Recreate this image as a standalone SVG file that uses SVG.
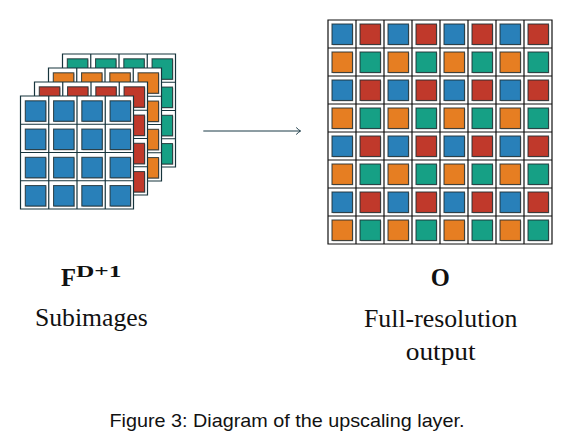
<svg xmlns="http://www.w3.org/2000/svg" width="575" height="444" viewBox="0 0 575 444">
<style>
  .bg{fill:#ffffff}
  .b{fill:#2980b9}
  .r{fill:#c0392b}
  .o{fill:#e67e22}
  .t{fill:#16a085}
  .sq{stroke:#1c2a2e;stroke-opacity:0.8;stroke-width:1.1}
  .sh{fill:#000;fill-opacity:0.28}
  .lgrid{fill:none;stroke:#17343c;stroke-width:1.2}
  .ogrid{fill:none;stroke:#111;stroke-width:1.2}
  .conn{fill:none;stroke:#1b3a47;stroke-width:1}
  .serif{font-family:"Liberation Serif","Times New Roman",serif;fill:#111}
  .sans{font-family:"Liberation Sans",Arial,sans-serif;fill:#111}
</style>
<defs>
  <g id="sh16">
    <rect x="5.6" y="5.6" width="20.5" height="20.5"/><rect x="33.85" y="5.6" width="20.5" height="20.5"/><rect x="62.1" y="5.6" width="20.5" height="20.5"/><rect x="90.35" y="5.6" width="20.5" height="20.5"/>
    <rect x="5.6" y="33.85" width="20.5" height="20.5"/><rect x="33.85" y="33.85" width="20.5" height="20.5"/><rect x="62.1" y="33.85" width="20.5" height="20.5"/><rect x="90.35" y="33.85" width="20.5" height="20.5"/>
    <rect x="5.6" y="62.1" width="20.5" height="20.5"/><rect x="33.85" y="62.1" width="20.5" height="20.5"/><rect x="62.1" y="62.1" width="20.5" height="20.5"/><rect x="90.35" y="62.1" width="20.5" height="20.5"/>
    <rect x="5.6" y="90.35" width="20.5" height="20.5"/><rect x="33.85" y="90.35" width="20.5" height="20.5"/><rect x="62.1" y="90.35" width="20.5" height="20.5"/><rect x="90.35" y="90.35" width="20.5" height="20.5"/>
  </g>
  <g id="sq16">
    <rect x="4.8" y="4.8" width="20.5" height="20.5"/><rect x="33.05" y="4.8" width="20.5" height="20.5"/><rect x="61.3" y="4.8" width="20.5" height="20.5"/><rect x="89.55" y="4.8" width="20.5" height="20.5"/>
    <rect x="4.8" y="33.05" width="20.5" height="20.5"/><rect x="33.05" y="33.05" width="20.5" height="20.5"/><rect x="61.3" y="33.05" width="20.5" height="20.5"/><rect x="89.55" y="33.05" width="20.5" height="20.5"/>
    <rect x="4.8" y="61.3" width="20.5" height="20.5"/><rect x="33.05" y="61.3" width="20.5" height="20.5"/><rect x="61.3" y="61.3" width="20.5" height="20.5"/><rect x="89.55" y="61.3" width="20.5" height="20.5"/>
    <rect x="4.8" y="89.55" width="20.5" height="20.5"/><rect x="33.05" y="89.55" width="20.5" height="20.5"/><rect x="61.3" y="89.55" width="20.5" height="20.5"/><rect x="89.55" y="89.55" width="20.5" height="20.5"/>
  </g>
  <path id="lg" d="M0,0H113V113H0Z M28.25,0V113 M56.5,0V113 M84.75,0V113 M0,28.25H113 M0,56.5H113 M0,84.75H113"/>
  <g id="rowA">
    <rect class="sh" x="4.8" y="4.8" width="20.5" height="20.5"/><rect class="sh" x="32.8" y="4.8" width="20.5" height="20.5"/><rect class="sh" x="60.8" y="4.8" width="20.5" height="20.5"/><rect class="sh" x="88.8" y="4.8" width="20.5" height="20.5"/><rect class="sh" x="116.8" y="4.8" width="20.5" height="20.5"/><rect class="sh" x="144.8" y="4.8" width="20.5" height="20.5"/><rect class="sh" x="172.8" y="4.8" width="20.5" height="20.5"/><rect class="sh" x="200.8" y="4.8" width="20.5" height="20.5"/>
    <rect class="sq b" x="4" y="4" width="20.5" height="20.5"/><rect class="sq r" x="32" y="4" width="20.5" height="20.5"/><rect class="sq b" x="60" y="4" width="20.5" height="20.5"/><rect class="sq r" x="88" y="4" width="20.5" height="20.5"/><rect class="sq b" x="116" y="4" width="20.5" height="20.5"/><rect class="sq r" x="144" y="4" width="20.5" height="20.5"/><rect class="sq b" x="172" y="4" width="20.5" height="20.5"/><rect class="sq r" x="200" y="4" width="20.5" height="20.5"/>
  </g>
  <g id="rowB">
    <rect class="sh" x="4.8" y="4.8" width="20.5" height="20.5"/><rect class="sh" x="32.8" y="4.8" width="20.5" height="20.5"/><rect class="sh" x="60.8" y="4.8" width="20.5" height="20.5"/><rect class="sh" x="88.8" y="4.8" width="20.5" height="20.5"/><rect class="sh" x="116.8" y="4.8" width="20.5" height="20.5"/><rect class="sh" x="144.8" y="4.8" width="20.5" height="20.5"/><rect class="sh" x="172.8" y="4.8" width="20.5" height="20.5"/><rect class="sh" x="200.8" y="4.8" width="20.5" height="20.5"/>
    <rect class="sq o" x="4" y="4" width="20.5" height="20.5"/><rect class="sq t" x="32" y="4" width="20.5" height="20.5"/><rect class="sq o" x="60" y="4" width="20.5" height="20.5"/><rect class="sq t" x="88" y="4" width="20.5" height="20.5"/><rect class="sq o" x="116" y="4" width="20.5" height="20.5"/><rect class="sq t" x="144" y="4" width="20.5" height="20.5"/><rect class="sq o" x="172" y="4" width="20.5" height="20.5"/><rect class="sq t" x="200" y="4" width="20.5" height="20.5"/>
  </g>
  <marker id="arr" viewBox="-4 -4 6 8" markerWidth="6" markerHeight="8" refX="1" refY="0" orient="auto" markerUnits="userSpaceOnUse">
    <path d="M-3,-3.2 Q-0.5,-0.8 1,0 Q-0.5,0.8 -3,3.2" fill="none" stroke="#1b3a47" stroke-width="1" stroke-linecap="round"/>
  </marker>
</defs>

<g id="subimages">
  <g id="layer-teal" transform="translate(62.5,54)">
    <rect class="bg" width="113" height="113"/>
    <use href="#sh16" class="sh"/>
    <use href="#sq16" class="sq t"/>
    <use href="#lg" class="lgrid"/>
  </g>
  <g id="layer-orange" transform="translate(48.5,68)">
    <rect class="bg" width="113" height="113"/>
    <use href="#sh16" class="sh"/>
    <use href="#sq16" class="sq o"/>
    <use href="#lg" class="lgrid"/>
  </g>
  <g id="layer-red" transform="translate(34.5,82)">
    <rect class="bg" width="113" height="113"/>
    <use href="#sh16" class="sh"/>
    <use href="#sq16" class="sq r"/>
    <use href="#lg" class="lgrid"/>
  </g>
  <g id="layer-blue" transform="translate(20.5,96)">
    <rect class="bg" width="113" height="113"/>
    <use href="#sh16" class="sh"/>
    <use href="#sq16" class="sq b"/>
    <use href="#lg" class="lgrid"/>
  </g>
</g>

<g id="output">
  <rect class="bg" x="328" y="20" width="224" height="224"/>
  <use href="#rowA" x="328" y="20"/>
  <use href="#rowB" x="328" y="48"/>
  <use href="#rowA" x="328" y="76"/>
  <use href="#rowB" x="328" y="104"/>
  <use href="#rowA" x="328" y="132"/>
  <use href="#rowB" x="328" y="160"/>
  <use href="#rowA" x="328" y="188"/>
  <use href="#rowB" x="328" y="216"/>
  <path class="ogrid" d="M328,20H552V244H328Z M356,20V244 M384,20V244 M412,20V244 M440,20V244 M468,20V244 M496,20V244 M524,20V244 M328,48H552 M328,76H552 M328,104H552 M328,132H552 M328,160H552 M328,188H552 M328,216H552"/>
</g>

<g id="connectors">
  <path class="conn" d="M203.3,131H300.5" marker-end="url(#arr)"/>
</g>

<g id="label-subimages">
  <text class="serif" x="61" y="285.5" font-size="25" font-weight="bold" textLength="15" lengthAdjust="spacingAndGlyphs">F</text>
  <text class="serif" x="76" y="276.7" font-size="16.5" font-weight="bold" textLength="45.5" lengthAdjust="spacingAndGlyphs">D+1</text>
  <text class="serif" x="35" y="326" font-size="24.5" textLength="112.7" lengthAdjust="spacingAndGlyphs">Subimages</text>
</g>

<g id="label-output">
  <text class="serif" x="440.3" y="286.3" font-size="24.5" font-weight="bold" text-anchor="middle">O</text>
  <text class="serif" x="364" y="326.7" font-size="24.5" textLength="153.3" lengthAdjust="spacingAndGlyphs">Full-resolution</text>
  <text class="serif" x="405.7" y="360" font-size="24.5" textLength="70" lengthAdjust="spacingAndGlyphs">output</text>
</g>

<text class="sans" x="109.5" y="427.3" font-size="19" textLength="355" lengthAdjust="spacingAndGlyphs">Figure 3: Diagram of the upscaling layer.</text>
</svg>
